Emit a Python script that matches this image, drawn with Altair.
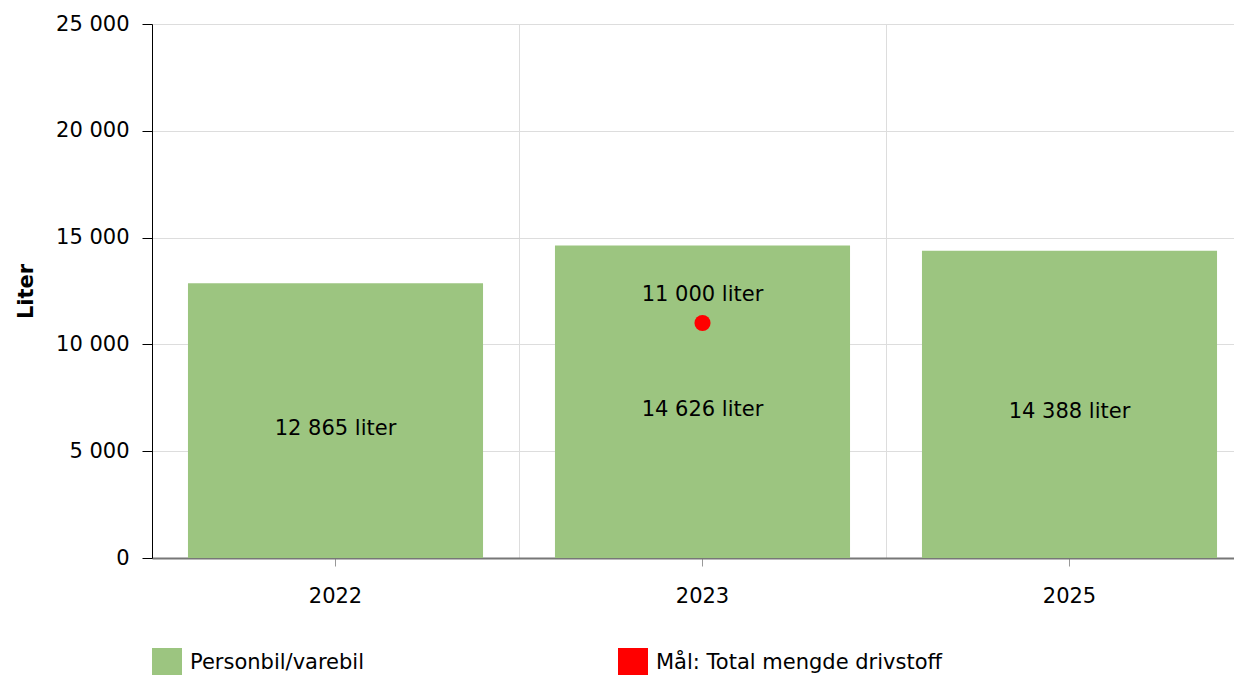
import altair as alt
import pandas as pd

years = ["2022", "2023", "2025"]
values = [12865, 14626, 14388]
bar_series = "Personbil/varebil"
target_series = "Mål: Total mengde drivstoff"
target_year = ["2023"]
target_value = [11000]
y_ticks = [0, 5000, 10000, 15000, 20000, 25000]

FONT = "DejaVu Sans"
FS = 21


def fmt(v):
    return f"{v:,}".replace(",", " ") + " liter"


bars_df = pd.DataFrame({
    "year": years,
    "value": values,
    "series": [bar_series] * len(years),
    "label": [fmt(v) for v in values],
})
bars_df["mid"] = bars_df["value"] / 2

target_df = pd.DataFrame({
    "year": target_year,
    "value": target_value,
    "series": [target_series] * len(target_year),
    "label": [fmt(v) for v in target_value],
})

color_scale = alt.Scale(domain=[bar_series, target_series], range=["#9CC580", "#FF0000"])
legend = alt.Legend(
    orient="none", legendX=0, legendY=624, direction="horizontal",
    symbolType="square", symbolSize=900, symbolStrokeWidth=0, symbolOpacity=1,
    labelFontSize=FS, labelFont=FONT, labelColor="black", labelOffset=8,
    columnPadding=253, title=None, padding=0, labelLimit=0,
)

x_scale = alt.Scale(domain=years, paddingInner=0, paddingOuter=0)
y_scale = alt.Scale(domain=[0, 25000], nice=False)

x_axis_labels = alt.Axis(
    title=None, grid=False, labelFont=FONT, labelFontSize=FS, labelColor="black",
    labelAngle=0, tickColor="#999999", tickSize=8, domainColor="#777777", domainWidth=2,
    labelPadding=19, orient="bottom",
)
x_axis_grid = alt.Axis(
    title=None, grid=True, gridColor="#dddddd", bandPosition=0, labels=False,
    ticks=False, domain=False, orient="top",
)
y_axis = alt.Axis(
    title="Liter", titleFont=FONT, titleFontSize=FS, titleFontWeight="bold",
    titleColor="black", titlePadding=19,
    values=y_ticks, labelFont=FONT, labelFontSize=FS, labelColor="black",
    labelExpr="replace(format(datum.value, ','), ',', ' ')",
    grid=True, gridColor="#dddddd", domainColor="black", tickColor="black",
    tickSize=10, labelPadding=13, orient="left",
)

bars = alt.Chart(bars_df).mark_bar(width=alt.RelativeBandSize(0.804)).encode(
    x=alt.X("year:N", scale=x_scale, axis=x_axis_labels, sort=years),
    y=alt.Y("value:Q", scale=y_scale, axis=y_axis),
    color=alt.Color("series:N", scale=color_scale, legend=legend),
)

bar_text = alt.Chart(bars_df).mark_text(
    font=FONT, fontSize=FS, color="black", baseline="middle", dy=8
).encode(
    x=alt.X("year:N", scale=x_scale, axis=x_axis_grid, sort=years),
    y=alt.Y("mid:Q", scale=y_scale, axis=y_axis),
    text="label:N",
)

point = alt.Chart(target_df).mark_point(filled=True, size=260, opacity=1).encode(
    x=alt.X("year:N", scale=x_scale, axis=None, sort=years),
    y=alt.Y("value:Q", scale=y_scale, axis=y_axis),
    color=alt.Color("series:N", scale=color_scale, legend=legend),
)

point_text = alt.Chart(target_df).mark_text(
    font=FONT, fontSize=FS, color="black", baseline="middle", dy=-28
).encode(
    x=alt.X("year:N", scale=x_scale, axis=None, sort=years),
    y=alt.Y("value:Q", scale=y_scale, axis=y_axis),
    text="label:N",
)

chart = alt.layer(bars, bar_text, point, point_text).resolve_axis(
    x="independent"
).properties(
    width=1101, height=534,
    autosize=alt.AutoSizeParams(type="none"),
    padding={"left": 144, "top": 16, "right": -19, "bottom": 125},
).configure(font=FONT).configure_view(stroke=None)

chart.save("out.html", embed_options={"renderer": "svg", "actions": False})
